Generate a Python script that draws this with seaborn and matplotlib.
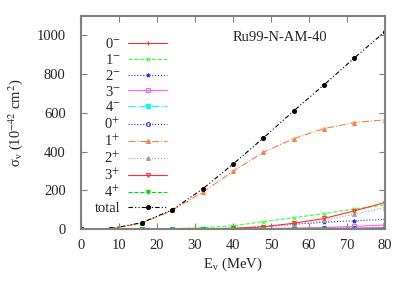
import matplotlib
matplotlib.use("Agg")
import matplotlib.pyplot as plt
import seaborn as sns

# energies (MeV)
energy = [0, 8, 16, 24, 32, 40, 48, 56, 64, 72, 80]

# partial cross sections (10^-42 cm^2)
xs_0m = [0, 0, 0, 0, 0, 0.5, 1, 2, 3, 4, 6]
xs_1m = [0, 0, 0.5, 2, 7, 17, 38, 59, 80, 104, 125]
xs_2m = [0, 0, 0, 0, 1, 4, 12, 25, 35, 43, 50]
xs_3m = [0, 0, 0, 0, 0, 1, 3, 5, 8, 14, 21]
xs_4m = [0, 0, 0, 0, 0, 0, 0.5, 1, 1, 2, 3]
xs_0p = [0, 0, 0, 0, 0.5, 1, 2, 3, 4, 5, 6]
xs_1p = [0, 3, 30, 97, 190, 298, 397, 467, 519, 550, 564]
xs_2p = [0, 0, 0, 0, 1, 4, 12, 25, 45, 77, 111]
xs_3p = [0, 0, 0, 0, 1, 4, 12, 30, 55, 94, 137]
xs_4p = [0, 0, 0, 0, 0, 0.5, 1, 1, 2, 2, 3]
xs_total = [0, 3, 33, 99, 207, 335, 470, 610, 745, 884, 1019]

labels = [r'0$^{-}$', r'1$^{-}$', r'2$^{-}$', r'3$^{-}$', r'4$^{-}$',
          r'0$^{+}$', r'1$^{+}$', r'2$^{+}$', r'3$^{+}$', r'4$^{+}$', 'total']
series = [xs_0m, xs_1m, xs_2m, xs_3m, xs_4m, xs_0p, xs_1p, xs_2p, xs_3p, xs_4p, xs_total]

styles = [
    dict(color='#ff3030', marker='+', linestyle='-', mfc='#ff3030'),
    dict(color='#40ff40', marker='x', linestyle='--', mfc='#40ff40'),
    dict(color='#3030ff', marker='*', linestyle=':', mfc='#3030ff'),
    dict(color='#ff60ff', marker='s', linestyle='-', mfc='none'),
    dict(color='#00ffff', marker='s', linestyle='-.', mfc='#00ffff'),
    dict(color='#3030ff', marker='o', linestyle=':', mfc='none'),
    dict(color='#ff8040', marker='^', linestyle='-.', mfc='#ff8040'),
    dict(color='#a0a0a0', marker='^', linestyle=':', mfc='#a0a0a0'),
    dict(color='#ff3030', marker='v', linestyle='-', mfc='none'),
    dict(color='#00e000', marker='v', linestyle='--', mfc='#00e000'),
    dict(color='black', marker='o', linestyle=(0, (4, 2, 1, 2, 1, 2)), mfc='black'),
]

sns.set_theme(style="white")
plt.rcParams['font.family'] = ['Liberation Serif', 'DejaVu Serif']
plt.rcParams['mathtext.fontset'] = 'stix'

fig = plt.figure(figsize=(4.09, 2.86), dpi=100)
ax = fig.add_axes([0.198, 0.199, 0.743, 0.745])

for lab, ys, st in zip(labels, series, styles):
    sns.lineplot(x=energy, y=ys, ax=ax, label=lab, color=st['color'],
                 marker=st['marker'], linestyle=st['linestyle'],
                 markerfacecolor=st['mfc'], markeredgecolor=st['color'],
                 markersize=2.8, markeredgewidth=0.8, linewidth=0.8)

ax.set_xlim(0, 80)
ax.set_ylim(0, 1100)
ax.set_xticks(range(0, 81, 10))
ax.set_yticks(range(0, 1001, 200))
ax.tick_params(direction='in', length=4, width=0.8, color='#808080',
               labelsize=10.5, top=True, right=True, bottom=True, left=True)
ax.tick_params(axis='x', pad=7)
ax.tick_params(axis='y', pad=11)
for sp in ax.spines.values():
    sp.set_color('#808080')
    sp.set_linewidth(1.5)

ax.set_xlabel(r'E$_{\mathregular{ν}}$ (MeV)', fontsize=10.5, labelpad=3)
ax.set_ylabel(r'σ$_{\mathregular{ν}}$ (10$^{-42}$ cm$^2$)', fontsize=10.5, labelpad=8)
ax.text(0.5, 0.90, 'Ru99-N-AM-40', transform=ax.transAxes, fontsize=10.5,
        ha='left', va='center')

ax.legend(loc='upper right', bbox_to_anchor=(0.317, 0.95), frameon=False,
          markerfirst=False, fontsize=10.5, handlelength=2.65, handletextpad=0.55,
          labelspacing=0.13, borderpad=0.2)

plt.savefig('out.png', dpi=100)
plt.close()
